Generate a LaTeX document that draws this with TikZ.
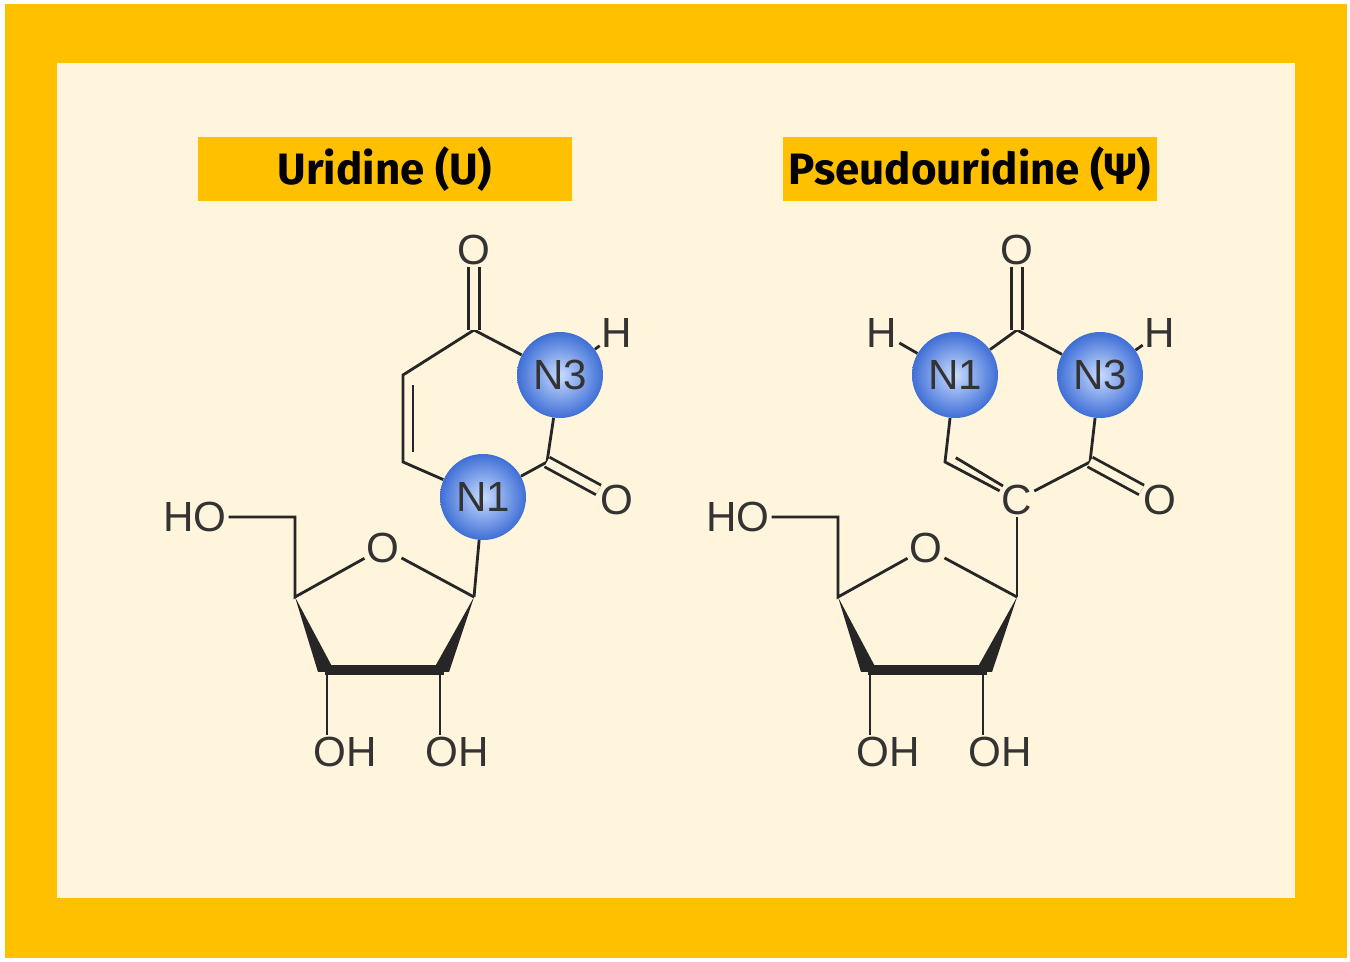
\documentclass[tikz,border=0pt]{standalone}
\usepackage{fontspec}
\setmainfont{Liberation Sans}
\newfontfamily\titlefont{Fira Sans}
\usetikzlibrary{calc}
\definecolor{gold}{HTML}{FFC000}
\definecolor{cream}{HTML}{FEF5DC}
\definecolor{ballin}{HTML}{C9DCFF}
\definecolor{ballout}{HTML}{3F6FD6}
\begin{document}
\begin{tikzpicture}[x=0.02cm, y=-0.02cm,
        atom/.style={inner sep=1pt, font=\fontsize{24}{24}\selectfont, text=black!80},
        sphere/.style={circle, minimum size=1.72cm, inner sep=0pt, inner color=ballin, outer color=ballout, font=\fontsize{24}{24}\selectfont, text=black!80},
        titlebox/.style={fill=gold, minimum width=7.5cm, minimum height=1.28cm, font=\titlefont\bfseries\fontsize{25}{25}\selectfont},
        bond/.style={line width=1.6pt, black!85},
        dbl/.style={line width=1.6pt, black!85, double distance=4.5pt, double=cream}
    ]
    % background
    \fill[white] (0,0) rectangle (1350,962);
    \fill[gold] (5,4) rectangle (1347,958);
    \fill[cream] (57,63) rectangle (1295,898);

    % titles
    \node[titlebox] (T1) at (385,169) {Uridine (U)};
    \node[titlebox] (T2) at (970,169) {Pseudouridine (Ψ)};

    % sugar macro: shift in x
    \newcommand{\sugar}[2]{%
      \begin{scope}[xshift=#1*0.02cm]
        \coordinate (#2c1) at (474,597);
        \coordinate (#2c4) at (295,597);
        \coordinate (#2c3) at (327,670);
        \coordinate (#2c2) at (440,670);
        \coordinate (#2c5) at (295,517);
        \node[atom] (#2o4) at (383,548) {O};
        \node[atom] (#2ho) at (195,517) {HO};
        \node[atom] (#2oh3) at (345,752) {OH};
        \node[atom] (#2oh2) at (457,752) {OH};
        \draw[bond] (#2c1) -- (#2o4) -- (#2c4) -- (#2c5) -- (#2ho);
        \fill[black!85] (295,597) -- (335,672) -- (318,672) -- cycle;
        \fill[black!85] (474,597) -- (449,672) -- (432,672) -- cycle;
        \draw[line width=6pt, black!85] (325,670) -- (444,670);
        \draw[bond] (#2c3) -- (#2oh3.north -| #2c3);
        \draw[bond] (#2c2) -- (#2oh2.north -| #2c2);
      \end{scope}}

    % Uridine
    \sugar{0}{u}
    \node[sphere] (uN1) at (483,497) {N1};
    \node[sphere] (uN3) at (560,375) {N3};
    \coordinate (uC4) at (474,330);
    \coordinate (uC2) at (547,462);
    \coordinate (uC5) at (403,375);
    \coordinate (uC6) at (403,462);
    \node[atom] (uO4) at (474,250) {O};
    \node[atom] (uO2) at (617,500) {O};
    \node[atom] (uH) at (617,333) {H};
    \draw[bond] (uc1) -- (uN1);
    \draw[bond] (uN1) -- (uC6) -- (uC5) -- (uC4) -- (uN3) -- (uH);
    \draw[bond] (uN3) -- (uC2) -- (uN1);
    \draw[bond] ($(uC5)!0.12!(uC6)+(10,0)$) -- ($(uC6)!0.12!(uC5)+(10,0)$);
    \draw[dbl] (uC4) -- (uO4);
    \draw[dbl] (uC2) -- (uO2);

    % Pseudouridine
    \sugar{543}{p}
    \node[atom] (pC5) at (1017,500) {C};
    \node[sphere] (pN1) at (955,375) {N1};
    \node[sphere] (pN3) at (1100,375) {N3};
    \coordinate (pC2) at (1017,330);
    \coordinate (pC4) at (1090,462);
    \coordinate (pC6) at (945,462);
    \node[atom] (pO2) at (1017,250) {O};
    \node[atom] (pO4) at (1160,500) {O};
    \node[atom] (pH1) at (882,333) {H};
    \node[atom] (pH3) at (1160,333) {H};
    \draw[bond] (pc1) -- (pC5);
    \draw[bond] (pC5) -- (pC6) -- (pN1) -- (pC2) -- (pN3) -- (pC4) -- (pC5);
    \draw[bond] (pN1) -- (pH1);
    \draw[bond] (pN3) -- (pH3);
    \draw[bond] ($(pC6)!0.15!(pC5)+(0,-10)$) -- ($(pC5)+(-14,-14)$);
    \draw[dbl] (pC2) -- (pO2);
    \draw[dbl] (pC4) -- (pO4);
\end{tikzpicture}
\end{document}
